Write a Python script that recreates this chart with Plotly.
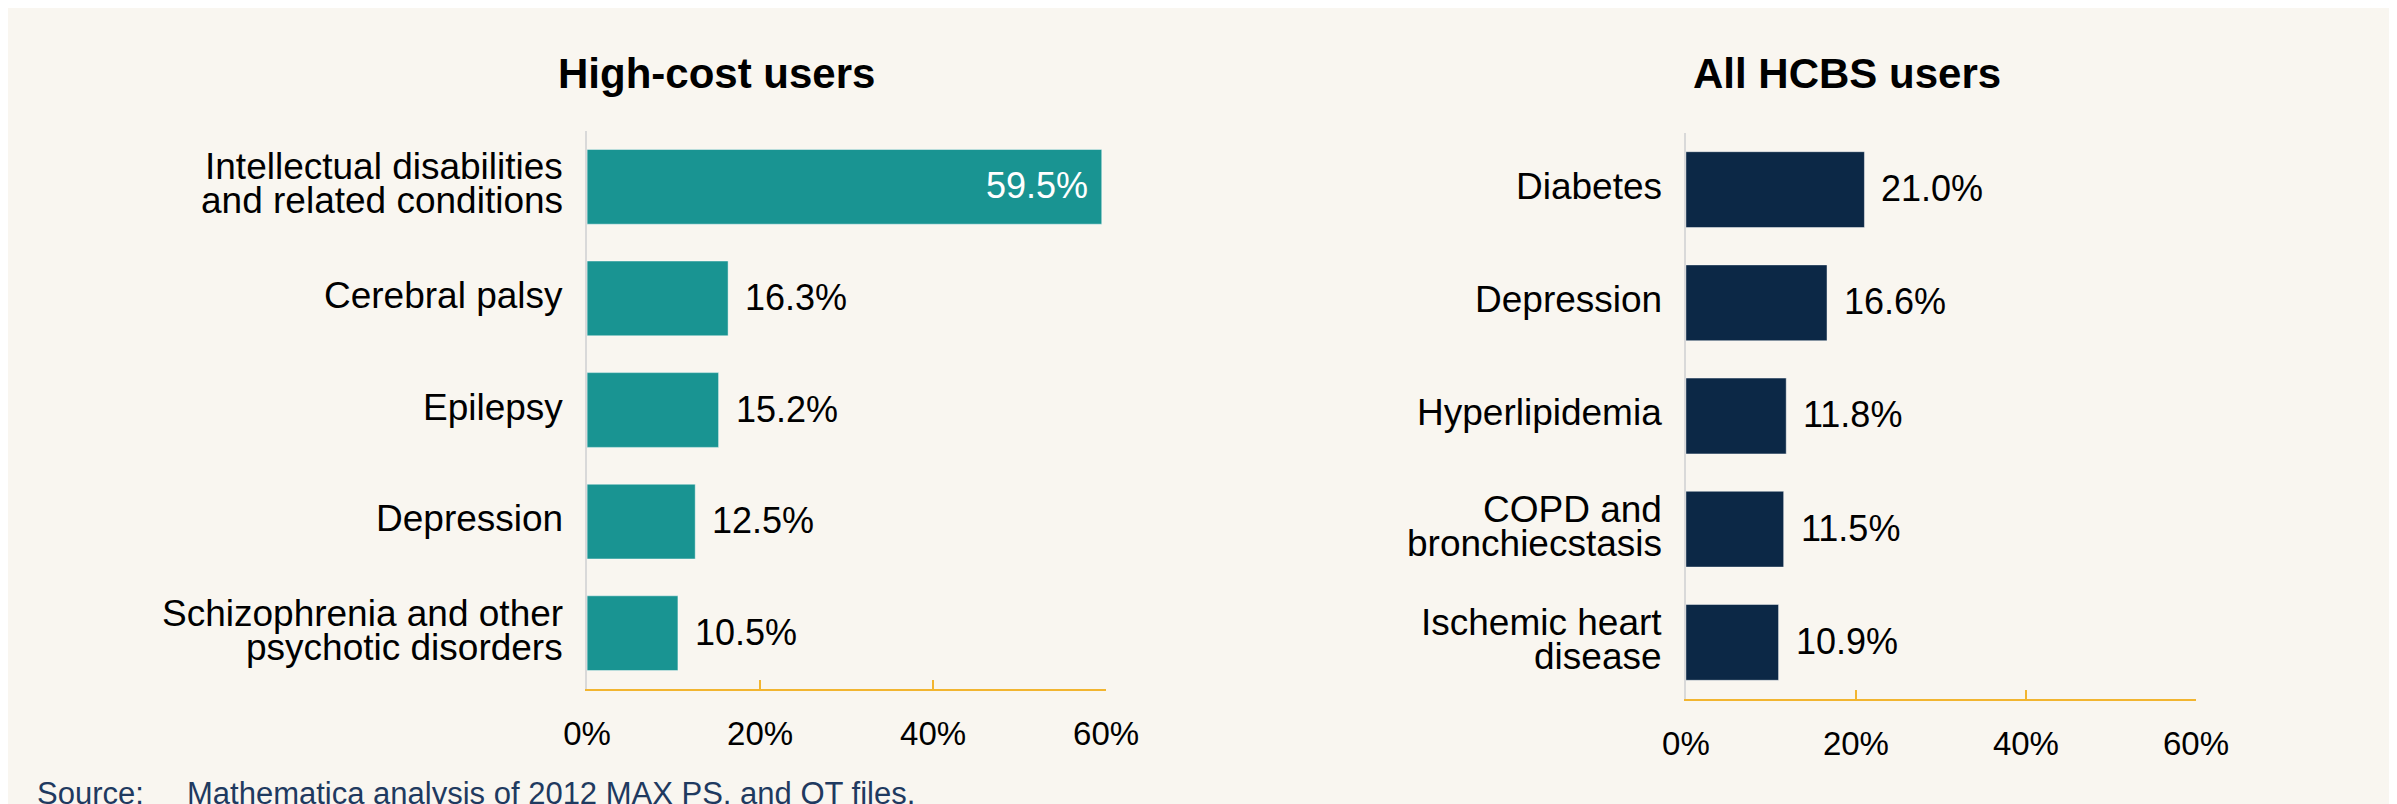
import plotly.graph_objects as go

# Data
high_cost_conditions = [
    "Intellectual disabilities\nand related conditions",
    "Cerebral palsy",
    "Epilepsy",
    "Depression",
    "Schizophrenia and other\npsychotic disorders",
]
high_cost_shares = [59.5, 16.3, 15.2, 12.5, 10.5]

all_users_conditions = [
    "Diabetes",
    "Depression",
    "Hyperlipidemia",
    "COPD and\nbronchiecstasis",
    "Ischemic heart\ndisease",
]
all_users_shares = [21.0, 16.6, 11.8, 11.5, 10.9]

x_ticks = [0, 20, 40, 60]
x_tick_labels = ["0%", "20%", "40%", "60%"]

panel_titles = ["High-cost users", "All HCBS users"]
source_label = "Source:"
source_text = "Mathematica analysis of 2012 MAX PS, and OT files."

# Styling
BG = "#F9F6F0"
TEAL = "#199492"
NAVY = "#0C2846"
GOLD = "#F2B530"
GREY = "#D9D9D9"
FONT = "Liberation Sans, Arial, sans-serif"

fig = go.Figure()

panels = [
    (high_cost_conditions, high_cost_shares, TEAL, "x", "y"),
    (all_users_conditions, all_users_shares, NAVY, "x2", "y2"),
]

annotations = []
for conditions, shares, color, xa, ya in panels:
    cats = [c.replace("\n", " ") for c in conditions]
    fig.add_trace(go.Bar(
        x=shares,
        y=cats,
        orientation="h",
        marker=dict(color=color, line=dict(color="rgba(255,255,255,0.45)", width=1)),
        xaxis=xa,
        yaxis=ya,
        hoverinfo="skip",
        showlegend=False,
    ))
    # category labels, one annotation per line to keep tight leading
    for label, cat in zip(conditions, cats):
        lines = label.split("\n")
        n = len(lines)
        for i, line in enumerate(lines):
            annotations.append(dict(
                text=line, xref=xa + " domain", yref=ya, x=0, y=cat,
                xanchor="right", yanchor="middle", xshift=-22,
                yshift=((n - 1) / 2 - i) * 34 + 3,
                showarrow=False, font=dict(family=FONT, size=37, color="black"),
            ))
    # value labels
    for val, cat in zip(shares, cats):
        inside = val > 40
        annotations.append(dict(
            text=f"{val:.1f}%", xref=xa, yref=ya, x=val, y=cat,
            xanchor="right" if inside else "left", yanchor="middle",
            xshift=-12 if inside else 15, yshift=1,
            showarrow=False,
            font=dict(family=FONT, size=36, color="white" if inside else "black"),
        ))

# panel titles
for title, xc in zip(panel_titles, [0.2954, 0.7672]):
    annotations.append(dict(
        text=f"<b>{title}</b>", xref="paper", yref="paper", x=xc, y=0.9180,
        xanchor="center", yanchor="middle", showarrow=False,
        font=dict(family=FONT, size=42, color="black"),
    ))

# source note
annotations.append(dict(
    text=source_label, xref="paper", yref="paper", x=0.0113, y=0,
    xanchor="left", yanchor="bottom", yshift=-1, showarrow=False,
    font=dict(family=FONT, size=31, color="#1F3A60"),
))
annotations.append(dict(
    text=source_text, xref="paper", yref="paper", x=0.0738, y=0,
    xanchor="left", yanchor="bottom", yshift=-1, showarrow=False,
    font=dict(family=FONT, size=31, color="#1F3A60"),
))

xaxis_style = dict(
    range=[0, 60], tickvals=x_ticks, ticktext=x_tick_labels,
    showline=True, linecolor=GOLD, linewidth=2,
    ticks="inside", ticklen=9, tickwidth=2, tickcolor=GOLD,
    showgrid=False, zeroline=False, fixedrange=True,
    tickfont=dict(family=FONT, size=33, color="black"),
    ticklabelstandoff=14,
)
yaxis_style = dict(
    type="category", autorange=False, range=[4.5, -0.5],
    showline=True, linecolor=GREY, linewidth=2,
    showticklabels=False, ticks="", showgrid=False, zeroline=False,
)

fig.update_layout(
    width=2397, height=804,
    paper_bgcolor=BG, plot_bgcolor=BG,
    margin=dict(l=0, r=0, t=0, b=0, pad=0, autoexpand=False),
    bargap=0.33,
    xaxis=dict(domain=[0.2416, 0.4581], anchor="y", **xaxis_style),
    yaxis=dict(domain=[0.1530, 0.8470], anchor="x", **yaxis_style),
    xaxis2=dict(domain=[0.7000, 0.9128], anchor="y2", **xaxis_style),
    yaxis2=dict(domain=[0.1406, 0.8445], anchor="x2", **yaxis_style),
    annotations=annotations,
    font=dict(family=FONT),
)

fig.write_html("out.html", config={"displayModeBar": False})
